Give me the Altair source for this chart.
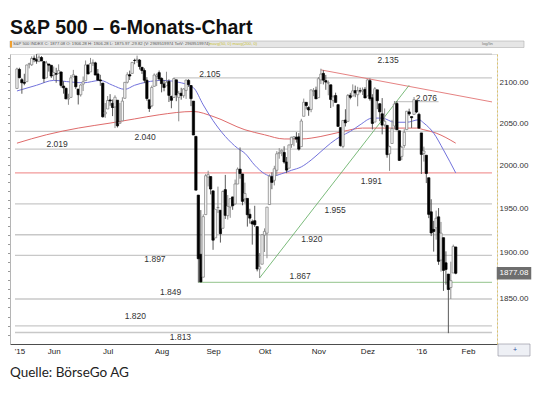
import json
import altair as alt
import pandas as pd

# ---- daily candles (trading-day index 0 = first candle) ----
opens = [2092.1, 2115.6, 2102.9, 2099.6, 2100.4, 2122.1, 2121.3, 2129.5, 2127.8, 2125.6, 2130.4, 2125.3, 2105.1, 2122.3, 2120.7,
         2108.6, 2110.4, 2110.6, 2112.4, 2095.1, 2092.3, 2079.1, 2081.1, 2106.2, 2107.4, 2091.3, 2084.3, 2097.4, 2101.6, 2121.1,
         2112.5, 2123.2, 2123.7, 2110.0, 2102.6, 2098.6, 2061.2,
         2067.0, 2078.0, 2074.0, 2069.5, 2077.7, 2049.7, 2052.7, 2080.0, 2099.7, 2109.0, 2110.6, 2126.8, 2126.9, 2127.2, 2118.2,
         2114.2, 2102.2, 2078.2, 2070.8, 2094.7, 2106.8, 2111.6,
         2104.5, 2097.7, 2095.3, 2100.8, 2082.6, 2081.0, 2102.7, 2081.1, 2086.2, 2083.2, 2089.7, 2102.0, 2095.7, 2076.6, 2034.1,
         1965.2, 1898.1, 1872.8, 1942.8, 1986.1, 1986.7,
         1970.1, 1916.5, 1950.8, 1947.8, 1927.3, 1971.5, 1941.6, 1951.5, 1963.1, 1955.1, 1978.0, 1995.3, 1989.7, 1960.8, 1961.4,
         1943.2, 1934.8, 1935.9, 1929.2, 1881.9, 1887.1,
         1919.7, 1921.8, 1954.3, 1986.6, 1982.3, 1994.0, 2013.7, 2015.7, 2015.0, 2003.7, 1996.5, 2024.4, 2031.7, 2033.1, 2033.5,
         2021.9, 2058.2, 2075.1, 2068.8, 2066.5, 2088.4, 2090.0,
         2080.8, 2102.6, 2110.6, 2101.7, 2098.6, 2096.6, 2077.2, 2083.4, 2072.3, 2044.6, 2022.1, 2053.7, 2052.0, 2083.7, 2082.8,
         2089.4, 2084.4, 2089.3, 2088.8, 2091.0,
         2082.9, 2101.7, 2080.7, 2051.2, 2090.4, 2073.4, 2061.2, 2047.9, 2047.3, 2013.4, 2025.6, 2046.5, 2073.8, 2040.8, 2010.3,
         2023.2, 2042.2, 2063.5, 2057.8, 2060.5, 2077.3, 2060.6,
         2038.2, 2013.8, 2011.7, 1985.3, 1946.0, 1926.1, 1927.8, 1940.3, 1891.7, 1916.7, 1888.7, 1876.2, 1861.5, 1877.4, 1906.3]
highs = [2117.7, 2117.7, 2105.1, 2110.2, 2121.5, 2123.9, 2131.8, 2133.0, 2134.7, 2133.2, 2132.2, 2125.3, 2126.2, 2122.3, 2120.7,
         2119.2, 2117.6, 2121.9, 2112.9, 2101.0, 2093.0, 2085.6, 2108.5, 2115.0, 2107.4, 2091.3, 2097.4, 2106.8, 2126.7, 2121.6,
         2129.9, 2128.0, 2125.1, 2116.0, 2108.9, 2098.6, 2074.3,
         2082.8, 2085.1, 2078.6, 2083.7, 2077.7, 2074.3, 2081.3, 2099.9, 2112.0, 2114.1, 2124.4, 2128.9, 2132.8, 2128.5, 2118.5,
         2116.9, 2106.0, 2078.2, 2095.6, 2110.6, 2110.5, 2114.2,
         2105.7, 2102.5, 2112.7, 2103.3, 2082.6, 2105.4, 2102.7, 2089.1, 2092.9, 2092.5, 2102.9, 2103.5, 2096.2, 2076.6, 2034.1,
         1965.2, 1948.0, 1943.1, 1989.6, 1993.5, 1986.7,
         1970.1, 1948.9, 1975.0, 1947.8, 1970.4, 1988.6, 1965.3, 1961.1, 1963.1, 1983.2, 1997.3, 2020.9, 1989.7, 1979.6, 1961.4,
         1949.5, 1937.2, 1952.9, 1929.2, 1899.5, 1920.5,
         1927.2, 1951.4, 1989.2, 1991.6, 1999.3, 2016.5, 2020.1, 2018.7, 2022.3, 2009.6, 2024.2, 2033.5, 2034.5, 2039.1, 2038.0,
         2055.2, 2079.7, 2075.1, 2070.4, 2090.4, 2092.5, 2094.3,
         2106.2, 2116.5, 2114.6, 2108.8, 2101.9, 2096.6, 2083.7, 2086.9, 2072.3, 2044.6, 2053.2, 2066.7, 2085.3, 2086.7, 2097.1,
         2095.6, 2094.1, 2093.0, 2093.3, 2093.8,
         2103.4, 2104.3, 2085.0, 2093.8, 2090.4, 2073.9, 2080.3, 2067.7, 2047.3, 2022.9, 2053.9, 2076.7, 2076.4, 2040.8, 2022.9,
         2042.7, 2064.7, 2067.4, 2057.8, 2081.6, 2077.3, 2062.5,
         2038.2, 2021.9, 2011.7, 1985.3, 1960.4, 1935.7, 1947.4, 1950.3, 1934.5, 1916.7, 1901.4, 1876.2, 1889.9, 1908.9, 1906.3]
lows = [2092.1, 2104.6, 2085.6, 2096.0, 2100.4, 2116.8, 2120.0, 2124.5, 2122.6, 2124.5, 2126.1, 2099.2, 2105.1, 2112.9, 2104.9,
        2102.5, 2099.1, 2110.6, 2093.2, 2085.7, 2079.1, 2072.1, 2081.1, 2106.2, 2091.3, 2072.5, 2082.1, 2088.9, 2101.6, 2109.5,
        2112.5, 2119.9, 2108.6, 2101.8, 2095.4, 2056.6, 2056.3,
        2067.0, 2071.0, 2058.4, 2044.0, 2044.7, 2049.7, 2052.7, 2080.0, 2098.2, 2102.5, 2110.6, 2122.0, 2123.7, 2115.4, 2110.0,
        2098.6, 2077.1, 2063.5, 2069.1, 2094.1, 2095.0, 2102.1,
        2087.3, 2088.6, 2095.3, 2075.5, 2067.9, 2081.0, 2076.5, 2052.1, 2078.3, 2080.6, 2079.3, 2094.1, 2070.5, 2035.7, 1970.9,
        1867.0, 1867.1, 1872.8, 1942.8, 1975.2, 1966.0,
        1903.1, 1916.5, 1944.7, 1911.2, 1927.3, 1937.9, 1937.2, 1939.2, 1948.3, 1954.3, 1977.9, 1984.2, 1953.5, 1955.8, 1929.2,
        1932.6, 1908.9, 1928.8, 1879.2, 1871.9, 1887.1,
        1900.7, 1893.7, 1954.3, 1972.0, 1976.4, 1987.5, 2007.6, 2010.6, 2001.8, 1990.7, 1996.5, 2020.5, 2022.3, 2026.6, 2017.2,
        2021.9, 2058.2, 2066.5, 2058.8, 2063.1, 2082.6, 2079.3,
        2080.8, 2097.5, 2097.0, 2090.4, 2083.7, 2068.2, 2069.9, 2074.9, 2045.7, 2022.0, 2019.9, 2045.9, 2052.0, 2078.8, 2082.8,
        2081.4, 2070.3, 2086.3, 2084.1, 2080.4,
        2082.9, 2077.1, 2042.4, 2051.2, 2066.8, 2052.3, 2036.5, 2045.7, 2008.8, 1993.3, 2025.6, 2042.4, 2041.7, 2005.3, 2005.9,
        2020.5, 2042.2, 2058.7, 2044.2, 2060.5, 2062.0, 2043.6,
        1989.7, 2004.2, 1979.1, 1938.8, 1918.5, 1901.1, 1914.4, 1886.4, 1878.9, 1857.8, 1864.6, 1812.3, 1849.0, 1877.4, 1876.0]
closes = [2116.1, 2105.3, 2099.1, 2098.5, 2121.1, 2122.7, 2129.2, 2127.8, 2125.9, 2130.8, 2126.1, 2104.2, 2123.5, 2120.8, 2107.4,
          2111.7, 2109.6, 2114.1, 2095.8, 2092.8, 2079.3, 2080.2, 2105.2, 2108.9, 2094.1, 2084.4, 2096.3, 2100.4, 2121.2, 2110.0,
          2122.9, 2124.2, 2108.6, 2102.3, 2101.5, 2057.6, 2063.1,
          2077.4, 2076.8, 2068.8, 2081.3, 2046.7, 2051.3, 2076.6, 2099.6, 2109.0, 2107.4, 2124.3, 2126.6, 2128.3, 2119.2, 2114.2,
          2102.2, 2079.7, 2067.6, 2093.3, 2108.6, 2108.6, 2103.8,
          2098.0, 2093.3, 2099.8, 2083.6, 2077.6, 2104.2, 2084.1, 2086.1, 2083.4, 2091.5, 2102.4, 2096.9, 2079.6, 2035.7, 1970.9,
          1893.2, 1867.6, 1940.5, 1987.7, 1988.9, 1972.2,
          1913.9, 1948.9, 1951.1, 1921.2, 1969.4, 1942.0, 1952.3, 1961.1, 1953.0, 1978.1, 1995.3, 1990.2, 1958.0, 1967.0, 1942.7,
          1938.8, 1932.2, 1931.3, 1881.8, 1884.1, 1920.0,
          1923.8, 1951.4, 1987.1, 1979.9, 1995.8, 2013.4, 2014.9, 2017.5, 2003.7, 1994.2, 2023.9, 2033.1, 2033.7, 2030.8, 2018.9,
          2052.5, 2075.2, 2071.2, 2065.9, 2090.4, 2089.4, 2079.4,
          2104.1, 2109.8, 2102.3, 2099.9, 2099.2, 2078.6, 2081.7, 2075.0, 2046.0, 2023.0, 2053.2, 2050.4, 2083.6, 2081.2, 2089.2,
          2086.6, 2089.1, 2088.9, 2090.1, 2080.4,
          2102.6, 2079.5, 2049.6, 2091.7, 2077.1, 2063.6, 2047.6, 2052.2, 2012.4, 2021.9, 2043.4, 2073.1, 2041.9, 2005.6, 2021.2,
          2039.0, 2064.3, 2061.0, 2056.5, 2078.4, 2063.4, 2043.9,
          2012.7, 2016.7, 1990.3, 1943.1, 1922.0, 1923.7, 1938.7, 1890.3, 1921.8, 1880.3, 1881.3, 1859.3, 1869.0, 1906.9, 1877.1]

# ---- month labels (trading-day index of month start) ----
month_pos = [1, 15, 37, 59, 80, 101, 123, 143, 165, 184]
month_lbl = ["'15", "Jun", "Jul", "Aug", "Sep", "Okt", "Nov", "Dez", "'16", "Feb"]

# ---- moving averages ----
ma_fast_idx = [0, 8, 15, 22, 27, 34, 39, 44, 48, 53, 59, 67, 72, 76, 80, 85, 90, 93, 97, 101, 104, 108, 112, 116, 120,
               124, 128, 132, 136, 140, 145, 149, 154, 159, 164, 166, 170, 174, 179]
ma_fast_val = [2089, 2096, 2102, 2100, 2099, 2102, 2096, 2091, 2096, 2100, 2102, 2099, 2093, 2072, 2053, 2034, 2020, 2014,
               2000, 1990, 1987, 1990, 1994, 1998, 2006, 2016, 2026, 2034, 2040, 2048, 2056, 2056, 2051, 2051, 2054, 2050,
               2038, 2018, 1991]
ma_slow_idx = [0, 12, 25, 38, 48, 58, 72, 80, 93, 101, 109, 116, 124, 133, 141, 152, 163, 166, 171, 179]
ma_slow_val = [2026, 2036, 2044, 2050, 2055, 2060, 2064, 2058, 2042, 2036, 2031, 2031, 2034, 2040, 2044, 2044, 2044,
               2042, 2038, 2026]

# ---- horizontal support / resistance levels ----
level_val = [2134.5, 2105, 2076, 2040, 2019, 1991, 1955, 1920, 1897, 1867, 1849, 1820, 1813]
level_from = [8, 64, 154, -0.8, -0.8, -0.8, -0.8, -0.8, -0.8, 74, -0.8, -0.8, -0.8]
level_to = [193.8, 193.8, 172, 193.8, 193.8, 193.8, 193.8, 193.8, 193.8, 193.8, 193.8, 193.8, 193.8]
level_kind = ["g", "g", "g", "g", "g", "r", "g", "g", "g", "gr", "g", "g", "g"]
level_text = ["2.135", "2.105", "2.076", "2.040", "2.019", "1.991", "1.955", "1.920", "1.897", "1.867", "1.849", "1.820", "1.813"]
label_idx = [151.4, 78.7, 167, 52.3, 16.4, 144.6, 129.8, 120.3, 56.3, 115.5, 62.7, 48.3, 66.7]
label_val = [2127.3, 2110, 2081, 2033.5, 2025, 1982, 1948, 1915.5, 1893, 1873.8, 1856.7, 1830.6, 1808]

# ---- trend lines ----
trend_x1 = [124, 99]
trend_y1 = [2115, 1872]
trend_x2 = [193.8, 160]
trend_y2 = [2075.6, 2096]
trend_kind = ["res", "sup"]

last_close = 1877.08
title_txt = "S&P 500 \u2013 6-Monats-Chart"
source_txt = "Quelle: B\u00f6rseGo AG"
header_txt = "S&P 500 INDEX C: 1877.08 O: 1906.28 H: 1906.28 L: 1875.97 -29.82 (V: 2969519974 TotV: 2969519974)"
header_ma = "mavg(50, 0) mavg(200, 0)"

# ------------------------------------------------------------------
FONT = "Liberation Sans"
candles = pd.DataFrame({"i": list(range(len(opens))), "o": opens, "h": highs, "l": lows, "c": closes})
fast = pd.DataFrame({"i": ma_fast_idx, "v": ma_fast_val})
slow = pd.DataFrame({"i": ma_slow_idx, "v": ma_slow_val})
levels = pd.DataFrame({"a": level_from, "b": level_to, "v": level_val, "k": level_kind})
labels = pd.DataFrame({"i": label_idx, "v": label_val, "t": level_text})
trends = pd.DataFrame({"a": trend_x1, "b": trend_x2, "y1": trend_y1, "y2": trend_y2, "k": trend_kind})
one = pd.DataFrame({"z": [0]})

xs = alt.Scale(domain=[-0.8, 193.8], nice=False, zero=False)
ys = alt.Scale(type="log", domain=[1800.8, 2134.8], nice=False)

expr = " : ".join(f"datum.value == {p} ? {json.dumps(l)}" for p, l in zip(month_pos, month_lbl)) + " : ''"
x_axis = alt.Axis(orient="bottom", values=month_pos, labelExpr=expr, ticks=False, grid=False, title=None,
                  domainColor="#4d4d4d", domainWidth=1.2, labelFontSize=8, labelFont=FONT,
                  labelColor="#222222", labelPadding=3, labelOverlap=False, labelFlush=False, labelBound=False)
y_right = alt.Axis(orient="right", values=[1850, 1900, 1950, 2000, 2050, 2100], format=".2f", grid=False,
                   title=None, ticks=False, labelPadding=2, labelFontSize=8, labelFont=FONT, labelColor="#333333",
                   domainColor="#dcc36a", domainDash=[2, 2], domainWidth=1)
y_left = alt.Axis(orient="left", values=list(range(1810, 2140, 10)), labels=False, grid=False, title=None,
                  tickSize=2.5, tickColor="#999999", domainColor="#b5b5b5", domainWidth=1)

NA = None


def X(field):
    return alt.X(field, scale=xs, axis=x_axis)


lv = alt.Chart(levels).mark_rule(strokeWidth=1.3).encode(
    x=X("a:Q"), x2="b:Q",
    y=alt.Y("v:Q", scale=ys, axis=NA),
    color=alt.Color("k:N", scale=alt.Scale(domain=["g", "r", "gr"], range=["#c8c8c8", "#f29a9a", "#a8cfa2"]), legend=None),
)
tr = alt.Chart(trends).mark_rule(strokeWidth=0.9).encode(
    x=X("a:Q"), x2="b:Q",
    y=alt.Y("y1:Q", scale=ys, axis=NA), y2="y2:Q",
    color=alt.Color("k:N", scale=alt.Scale(domain=["res", "sup"], range=["#e27474", "#6cb36c"]), legend=None),
)
l_fast = alt.Chart(fast).mark_line(color="#7272dc", strokeWidth=1, interpolate="monotone").encode(
    x=X("i:Q"), y=alt.Y("v:Q", scale=ys, axis=NA))
l_slow = alt.Chart(slow).mark_line(color="#df6b6b", strokeWidth=1, interpolate="monotone").encode(
    x=X("i:Q"), y=alt.Y("v:Q", scale=ys, axis=NA))

base = alt.Chart(candles).transform_calculate(d="datum.c >= datum.o ? 'up' : 'down'")
wick = base.mark_rule(strokeWidth=1).encode(
    x=X("i:Q"),
    y=alt.Y("l:Q", scale=ys, axis=y_left), y2="h:Q",
    color=alt.Color("d:N", scale=alt.Scale(domain=["up", "down"], range=["#8c8c8c", "#5a5a5a"]), legend=None),
)
body = base.mark_bar(width=2.3, strokeWidth=0.7).encode(
    x=X("i:Q"),
    y=alt.Y("o:Q", scale=ys, axis=y_right), y2="c:Q",
    fill=alt.Fill("d:N", scale=alt.Scale(domain=["up", "down"], range=["#f7f7f7", "#000000"]), legend=None),
    stroke=alt.Stroke("d:N", scale=alt.Scale(domain=["up", "down"], range=["#7a7a7a", "#000000"]), legend=None),
)
lab = alt.Chart(labels).mark_text(font=FONT, fontSize=8.5, color="#333333", baseline="middle").encode(
    x=X("i:Q"), y=alt.Y("v:Q", scale=ys, axis=NA), text="t:N")

# last-price box on the right axis
pbox = alt.Chart(pd.DataFrame({"v": [last_close]})).mark_point(
    shape="M-1,-0.36H1V0.36H-1Z", size=1190, filled=True, opacity=1, color="#6e6e6e").encode(
    x=alt.value(504), y=alt.Y("v:Q", scale=ys, axis=NA))
ptxt = alt.Chart(pd.DataFrame({"v": [last_close], "t": [f"{last_close:.2f}"]})).mark_text(
    font=FONT, fontSize=8, color="white", align="center", baseline="middle").encode(
    x=alt.value(504), y=alt.Y("v:Q", scale=ys, axis=NA), text="t:N")

# header strip, title and source
hdr = alt.Chart(one).mark_rect(fill="#e6e6e6", stroke="#b0b0b0", strokeWidth=0.6).encode(
    x=alt.value(0), x2=alt.value(514), y=alt.value(-13), y2=alt.value(-6.5))
hdr_mark = alt.Chart(one).mark_rect(fill="#f0a030").encode(
    x=alt.value(0), x2=alt.value(2), y=alt.value(-13), y2=alt.value(-6.5))
hdr_t1 = alt.Chart(pd.DataFrame({"t": [header_txt]})).mark_text(
    font=FONT, fontSize=4.2, color="#555555", align="left", baseline="middle").encode(
    x=alt.value(3), y=alt.value(-9.7), text="t:N")
hdr_t2 = alt.Chart(pd.DataFrame({"t": [header_ma]})).mark_text(
    font=FONT, fontSize=4.2, color="#c9c23c", align="left", baseline="middle").encode(
    x=alt.value(199), y=alt.value(-9.7), text="t:N")
hdr_t3 = alt.Chart(pd.DataFrame({"t": ["log/lin"]})).mark_text(
    font=FONT, fontSize=4.2, color="#777777", align="left", baseline="middle").encode(
    x=alt.value(472), y=alt.value(-9.7), text="t:N")
btn = alt.Chart(one).mark_rect(fill="#eef0f5", stroke="#8a8a99", strokeWidth=0.6).encode(
    x=alt.value(488), x2=alt.value(520), y=alt.value(290), y2=alt.value(302))
btn_t = alt.Chart(pd.DataFrame({"t": ["+"]})).mark_text(
    font=FONT, fontSize=7, color="#3050a0", align="center", baseline="middle").encode(
    x=alt.value(505), y=alt.value(296), text="t:N")
ttl = alt.Chart(pd.DataFrame({"t": [title_txt]})).mark_text(
    font=FONT, fontSize=19.5, fontWeight="bold", color="#111111", align="left", baseline="alphabetic").encode(
    x=alt.value(0), y=alt.value(-20), text="t:N")
src = alt.Chart(pd.DataFrame({"t": [source_txt]})).mark_text(
    font="Lato", fontSize=13.5, color="#222222", align="left", baseline="alphabetic").encode(
    x=alt.value(0), y=alt.value(323), text="t:N")

chart = alt.layer(
    hdr, hdr_mark, hdr_t1, hdr_t2, hdr_t3,
    lv, tr, l_slow, l_fast, wick, body, lab, pbox, ptxt, btn, btn_t, ttl, src,
).resolve_axis(y="independent").resolve_scale(
    color="independent", fill="independent", stroke="independent"
).properties(
    width=487, height=290,
    autosize=alt.AutoSizeParams(type="none"),
    padding={"left": 2, "top": 46, "right": 35, "bottom": 40},
).configure_view(stroke=None).configure(background="white")

chart.save("out.html", embed_options={"renderer": "svg", "actions": False})
